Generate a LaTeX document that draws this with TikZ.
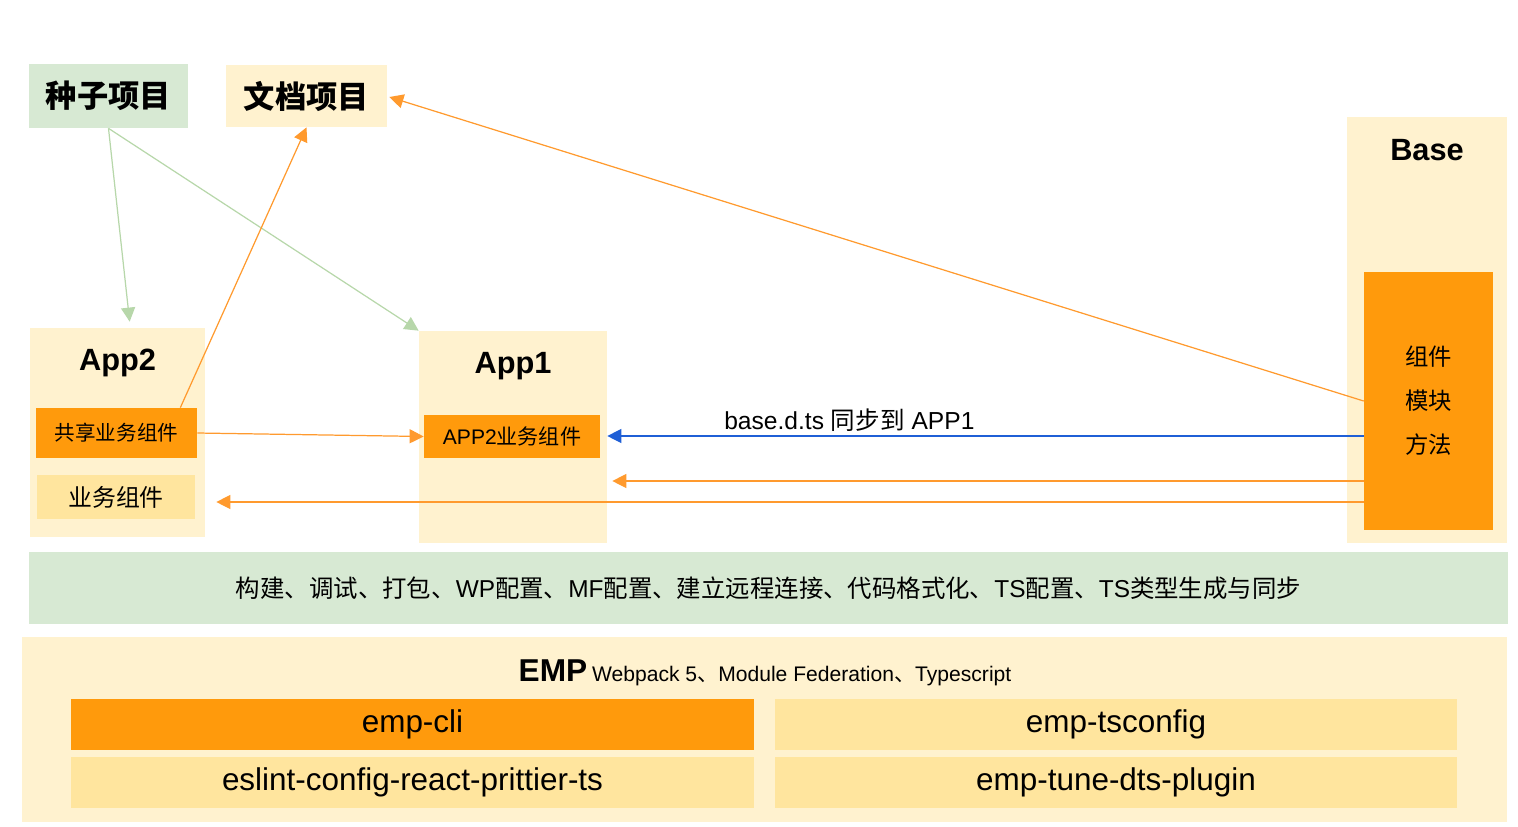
\documentclass[tikz,border=0pt]{standalone}
\usepackage{fontspec}
\setmainfont{Liberation Sans}
\newfontfamily\cjk{Noto Sans CJK SC}
\usepackage{tikz}
\usetikzlibrary{arrows.meta,positioning,calc}

\definecolor{seedgreen}{HTML}{D7E9D3}
\definecolor{paleyellow}{HTML}{FFF2CF}
\definecolor{midyellow}{HTML}{FFE59E}
\definecolor{boxorange}{HTML}{FF9A0C}
\definecolor{lineorange}{HTML}{FF9A2E}
\definecolor{linegreen}{HTML}{B7D7AA}
\definecolor{syncblue}{HTML}{1F5FD6}

\tikzset{
	box/.style={rectangle, inner sep=0pt, align=center},
	greenbox/.style={box, fill=seedgreen},
	palebox/.style={box, fill=paleyellow},
	yellowbox/.style={box, fill=midyellow},
	orangebox/.style={box, fill=boxorange},
	pkgbox/.style={minimum width=13.66cm, minimum height=1.02cm, font=\fontsize{17.9}{20}\selectfont},
	title/.style={inner sep=0pt, font=\bfseries\fontsize{17.5}{20}\selectfont},
	garrow/.style={draw=linegreen, line width=0.7pt, -{Triangle[length=8pt,width=8pt]}},
	oarrow/.style={draw=lineorange, line width=0.7pt, -{Triangle[length=8pt,width=8pt]}},
	barrow/.style={draw=syncblue, line width=0.7pt, -{Triangle[length=8pt,width=8pt]}},
}

\begin{document}
\begin{tikzpicture}[x=0.02cm, y=-0.02cm]
		\useasboundingbox (0,0) rectangle (1518,826);
		% top projects
		\node[greenbox, minimum width=3.18cm, minimum height=1.28cm, font=\cjk\bfseries\fontsize{17.8}{20}\selectfont] (seed) at (108.5,96) {种子项目};
		\node[palebox, minimum width=3.22cm, minimum height=1.24cm, font=\cjk\bfseries\fontsize{17.8}{20}\selectfont] (doc) at (306.5,96) {文档项目};
		% base
		\node[palebox, minimum width=3.2cm, minimum height=8.52cm] (base) at (1427,330) {};
		\node[title] (basetitle) at (1427,150) {Base};
		\node[orangebox, minimum width=2.58cm, minimum height=5.16cm, font=\cjk\fontsize{13.3}{25}\selectfont] (core) at (1428.5,401) {组件\\模块\\方法};
		% app2
		\node[palebox, minimum width=3.5cm, minimum height=4.18cm] (app2) at (117.5,432.5) {};
		\node[title] (app2title) at (117.5,363) {App2};
		\node[orangebox, minimum width=3.22cm, minimum height=1.0cm, font=\cjk\fontsize{11.7}{14}\selectfont] (share) at (116.5,433) {共享业务组件};
		\node[yellowbox, minimum width=3.16cm, minimum height=0.88cm, font=\cjk\fontsize{13.6}{16}\selectfont] (biz) at (116,497) {业务组件};
		% app1
		\node[palebox, minimum width=3.76cm, minimum height=4.24cm] (app1) at (513,437) {};
		\node[title] (app1title) at (513,366) {App1};
		\node[orangebox, minimum width=3.52cm, minimum height=0.86cm, font=\fontsize{12}{14}\selectfont] (app2c) at (512,436.5) {APP2{\cjk 业务组件}};
		% tool bar
		\node[greenbox, minimum width=29.58cm, minimum height=1.44cm, font=\fontsize{13.9}{16}\selectfont] (tools) at (768.5,588)
			{{\cjk 构建、调试、打包、}WP{\cjk 配置、}MF{\cjk 配置、建立远程连接、代码格式化、}TS{\cjk 配置、}TS{\cjk 类型生成与同步}};
		% emp
		\node[palebox, minimum width=29.7cm, minimum height=3.7cm] (emp) at (764.5,729.5) {};
		\node[inner sep=0pt] (emptitle) at (765,673)
			{{\bfseries\fontsize{18}{20}\selectfont EMP} {\fontsize{12}{14}\selectfont Webpack 5{\cjk 、}Module Federation{\cjk 、}Typescript}};
		\node[orangebox, pkgbox] (cli) at (412.5,724.5) {emp-cli};
		\node[yellowbox, pkgbox, minimum width=13.64cm] (tsconfig) at (1116,724.5) {emp-tsconfig};
		\node[yellowbox, pkgbox] (eslint) at (412.5,782.5) {eslint-config-react-prittier-ts};
		\node[yellowbox, pkgbox, minimum width=13.64cm] (dts) at (1116,782.5) {emp-tune-dts-plugin};
		% connectors
		\draw[garrow] (seed.south) -- ($(app2.north west)+(100,-6)$);
		\draw[garrow] (seed.south) -- (app1.north west);
		\draw[oarrow] ($(share.north east)+(-17,0)$) -- (doc.south);
		\draw[oarrow] (core.west) -- ($(doc.east)+(2,1)$);
		\draw[oarrow] (share.east) -- (app2c.west);
		\coordinate (s2) at ($(core.west)+(0,35)$);
		\coordinate (s3) at ($(core.west)+(0,80)$);
		\coordinate (s4) at ($(core.west)+(0,101)$);
		\draw[barrow] (s2) -- (app1.east |- s2) node[pos=0.68, above=-1pt, font=\fontsize{14}{16}\selectfont] {base.d.ts {\cjk 同步到} APP1};
		\draw[oarrow] (s3) -- ($(app1.east |- s3)+(5,0)$);
		\draw[oarrow] (s4) -- ($(app2.east |- s4)+(11,0)$);
\end{tikzpicture}
\end{document}
